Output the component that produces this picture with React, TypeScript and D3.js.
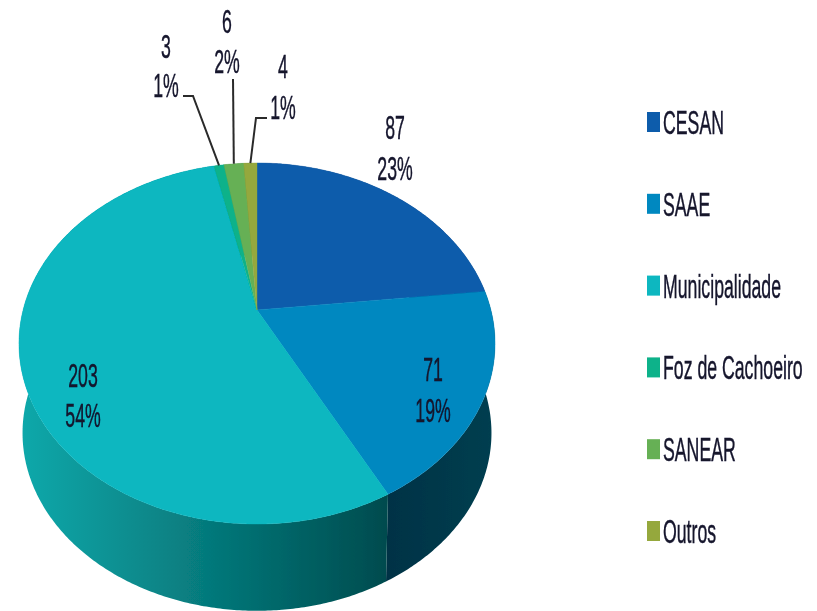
import * as d3 from "d3";

const categories = ["CESAN", "SAAE", "Municipalidade", "Foz de Cachoeiro", "SANEAR", "Outros"];
const values = [87, 71, 203, 3, 6, 4];
const percents = ["23%", "19%", "54%", "1%", "2%", "1%"];
const colors = ["#0b5cab", "#0088c0", "#07b7c0", "#0db28a", "#66b055", "#95a83c"];

const width = 817;
const height = 611;

// the pie was drawn in perspective, so the apex is not the ellipse centre
const cx = 257;
const cy = 310;
const radiusX = 233.9;
const radiusY = 174.3;
const tilt = 0.1856;
const wallDrop = 90;
const wallScale = 0.985;

// label anchors: x, baseline of count, baseline of percent
const labelPos = [
  [395, 139, 180],
  [433, 381, 422],
  [83, 387, 427],
  [166, 58, 97],
  [227, 33, 73],
  [283, 78, 119],
];
// where each leader line leaves its label: [x, y] points before the pie edge
const leaders: Record<number, number[][]> = {
  3: [[183, 96], [193, 96]],
  4: [[233, 79]],
  5: [[267, 118], [256, 118]],
};

const legendX = 647;
const legendY = d3.scaleLinear().domain([0, 5]).range([122, 531]);

const project = (a: number, wall = false): [number, number] => {
  const x = Math.sin(a);
  const y = -Math.cos(a);
  const w = 1 - tilt * y;
  const s = wall ? wallScale : 1;
  return [cx + (s * radiusX * x) / w, cy + (wall ? wallDrop : 0) + (s * radiusY * y) / w];
};

const arcAngles = (a0: number, a1: number) => {
  const n = Math.max(2, Math.ceil((a1 - a0) / 0.01));
  return d3.range(n + 1).map((i) => a0 + ((a1 - a0) * i) / n);
};

const pie = d3.pie<number>().sort(null).value((d) => d);
const slices = pie(values);
const line = d3.line();

const topPath = (a0: number, a1: number) =>
  line([[cx, cy], ...arcAngles(a0, a1).map((a) => project(a))])! + "Z";

const wallPath = (a0: number, a1: number) => {
  const angles = arcAngles(a0, a1);
  return (
    line([...angles.map((a) => project(a)), ...angles.slice().reverse().map((a) => project(a, true))])! + "Z"
  );
};

const wallFills = ["#0b3f78", "url(#wallSaae)", "url(#wallMuni)", "#0a7c60", "#47783a", "#66732a"];

const squeeze = (x: number, y: number) => `translate(${x},${y}) scale(0.59,1.12)`;

const App = () => (
  <svg
    width={width}
    height={height}
    viewBox={`0 0 ${width} ${height}`}
    style={{ position: "absolute", left: 0, top: 0, background: "#fff" }}
    fontFamily="'Liberation Sans', Arial, sans-serif"
    fontSize={30}
  >
    <defs>
      <linearGradient id="wallMuni" gradientUnits="userSpaceOnUse" x1={22} x2={388} y1={0} y2={0}>
        <stop offset="0" stopColor="#10a8aa" />
        <stop offset="0.5" stopColor="#067a7c" />
        <stop offset="1" stopColor="#034b4e" />
      </linearGradient>
      <linearGradient id="wallSaae" gradientUnits="userSpaceOnUse" x1={386} x2={495} y1={0} y2={0}>
        <stop offset="0" stopColor="#013245" />
        <stop offset="1" stopColor="#033f50" />
      </linearGradient>
      <filter id="soft" x="-10%" y="-10%" width="120%" height="120%">
        <feGaussianBlur stdDeviation="0.55" />
      </filter>
    </defs>

    <g filter="url(#soft)">
      {slices.map((s, i) => (
        <path key={`wall-${i}`} d={wallPath(s.startAngle, s.endAngle)} fill={wallFills[i]} />
      ))}
      {slices.map((s, i) => (
        <path key={`top-${i}`} d={topPath(s.startAngle, s.endAngle)} fill={colors[i]} stroke={colors[i]} strokeWidth={0.4} />
      ))}
    </g>

    <g filter="url(#soft)" fill="none" stroke="#2b2b2b" strokeWidth={2}>
      {Object.keys(leaders).map((k) => {
        const i = Number(k);
        const mid = (slices[i].startAngle + slices[i].endAngle) / 2;
        const end = project(mid);
        return <path key={k} d={line([...(leaders[i] as [number, number][]), end])!} />;
      })}
    </g>

    <g filter="url(#soft)" fill="#14142c" stroke="#14142c" strokeWidth={0.4} textAnchor="middle">
      {values.map((v, i) => (
        <g key={categories[i]}>
          <text transform={squeeze(labelPos[i][0], labelPos[i][1])}>{v}</text>
          <text transform={squeeze(labelPos[i][0], labelPos[i][2])}>{percents[i]}</text>
        </g>
      ))}
    </g>

    <g filter="url(#soft)">
      {categories.map((c, i) => (
        <g key={c}>
          <rect x={legendX} y={legendY(i) - 10} width={13} height={20} fill={colors[i]} />
          <text transform={squeeze(legendX + 16, legendY(i) + 12)} fill="#14142c" stroke="#14142c" strokeWidth={0.4}>
            {c}
          </text>
        </g>
      ))}
    </g>
  </svg>
);

export default App;
